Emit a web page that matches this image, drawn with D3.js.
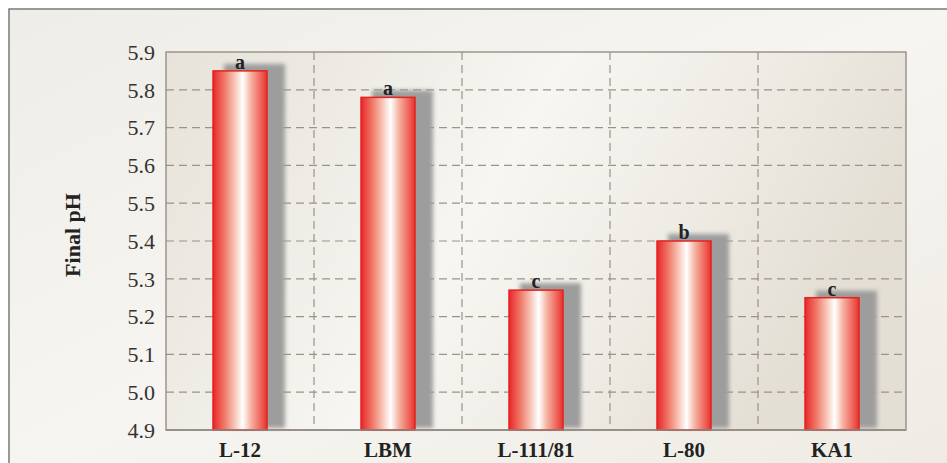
<!DOCTYPE html>
<html lang="en">
<head>
  <meta charset="UTF-8">
  <title>Final pH</title>
  <script src="https://d3js.org/d3.v7.min.js"></script>
  <style>
    body { margin: 0; background: #fff; }
    svg { display: block; }
    svg text { font-family: "Liberation Serif", "Times New Roman", Times, serif; }
  </style>
</head>
<body>
<svg width="947" height="463"></svg>
<script>
  // data
  const strains = ["L-12", "LBM", "L-111/81", "L-80", "KA1"]
  const finalPH = [5.85, 5.78, 5.27, 5.40, 5.25]
  const letters = ["a", "a", "c", "b", "c"]
  const yTicks = [4.9, 5.0, 5.1, 5.2, 5.3, 5.4, 5.5, 5.6, 5.7, 5.8, 5.9]

  const width = 947
  const height = 463
  const margin = { top: 52, right: 41, bottom: 33, left: 166 }

  const svg = d3.select("svg")
  const defs = svg.append("defs")

  // outer panel
  const bgGrad = defs.append("linearGradient").attr("id", "bg")
    .attr("x1", "0").attr("y1", "0").attr("x2", "1").attr("y2", "1")
  bgGrad.append("stop").attr("offset", "0%").attr("stop-color", "#efede7")
  bgGrad.append("stop").attr("offset", "50%").attr("stop-color", "#f6f5f1")
  bgGrad.append("stop").attr("offset", "100%").attr("stop-color", "#efebe4")

  const plotGrad = defs.append("linearGradient").attr("id", "plotbg")
    .attr("x1", "0").attr("y1", "0").attr("x2", "1").attr("y2", "0.3")
  plotGrad.append("stop").attr("offset", "0%").attr("stop-color", "#e7e3da")
  plotGrad.append("stop").attr("offset", "20%").attr("stop-color", "#ece9e2")
  plotGrad.append("stop").attr("offset", "50%").attr("stop-color", "#f7f6f2")
  plotGrad.append("stop").attr("offset", "75%").attr("stop-color", "#efece5")
  plotGrad.append("stop").attr("offset", "100%").attr("stop-color", "#e4dfd5")

  // bar fill: red edges, white highlight near the centre
  const barGrad = defs.append("linearGradient").attr("id", "bar")
    .attr("x1", "0").attr("y1", "0").attr("x2", "1").attr("y2", "0")
  barGrad.append("stop").attr("offset", "0%").attr("stop-color", "#e8262a")
  barGrad.append("stop").attr("offset", "22%").attr("stop-color", "#f07c6a")
  barGrad.append("stop").attr("offset", "45%").attr("stop-color", "#fbd9cf")
  barGrad.append("stop").attr("offset", "55%").attr("stop-color", "#ffffff")
  barGrad.append("stop").attr("offset", "70%").attr("stop-color", "#f6b3a2")
  barGrad.append("stop").attr("offset", "100%").attr("stop-color", "#e9332e")

  defs.append("filter").attr("id", "blur")
    .attr("x", "-50%").attr("y", "-50%").attr("width", "200%").attr("height", "200%")
    .append("feGaussianBlur").attr("stdDeviation", 2)

  svg.append("rect")
    .attr("x", 9).attr("y", 9)
    .attr("width", width - 9 + 2).attr("height", height)
    .attr("fill", "url(#bg)")
    .attr("stroke", "#7a7a7a").attr("stroke-width", 1.5)

  const x = d3.scaleBand()
    .domain(strains)
    .range([margin.left, width - margin.right])
    .paddingInner(0)
    .paddingOuter(0)

  const y = d3.scaleLinear()
    .domain([4.9, 5.9])
    .range([height - margin.bottom, margin.top])

  const plotW = width - margin.right - margin.left
  const plotH = height - margin.bottom - margin.top

  svg.append("rect")
    .attr("x", margin.left).attr("y", margin.top)
    .attr("width", plotW).attr("height", plotH)
    .attr("fill", "url(#plotbg)")

  // dashed grid
  svg.append("g")
    .selectAll("line")
    .data(yTicks.slice(1, -1))
    .join("line")
    .attr("x1", margin.left).attr("x2", width - margin.right)
    .attr("y1", d => y(d)).attr("y2", d => y(d))
    .attr("stroke", "#9b928a").attr("stroke-width", 1.2)
    .attr("stroke-dasharray", "8,5")

  svg.append("g")
    .selectAll("line")
    .data(strains.slice(1))
    .join("line")
    .attr("x1", d => x(d)).attr("x2", d => x(d))
    .attr("y1", margin.top).attr("y2", height - margin.bottom)
    .attr("stroke", "#9b928a").attr("stroke-width", 1.2)
    .attr("stroke-dasharray", "8,5")

  // plot frame
  svg.append("rect")
    .attr("x", margin.left).attr("y", margin.top)
    .attr("width", plotW).attr("height", plotH)
    .attr("fill", "none")
    .attr("stroke", "#8f877f").attr("stroke-width", 1.3)

  const barW = 54
  const bars = svg.append("g")
    .selectAll("g")
    .data(strains)
    .join("g")

  // soft shadows behind the bars
  bars.append("rect")
    .attr("x", d => x(d) + x.bandwidth() / 2 - barW / 2 + 11)
    .attr("y", (d, i) => y(finalPH[i]) - 7)
    .attr("width", barW + 7)
    .attr("height", (d, i) => y(4.9) - y(finalPH[i]) + 5)
    .attr("fill", "#9d9d9d")
    .attr("filter", "url(#blur)")

  bars.append("rect")
    .attr("x", d => x(d) + x.bandwidth() / 2 - barW / 2)
    .attr("y", (d, i) => y(finalPH[i]))
    .attr("width", barW)
    .attr("height", (d, i) => y(4.9) - y(finalPH[i]))
    .attr("fill", "url(#bar)")
    .attr("stroke", "#e3231f").attr("stroke-width", 1.5)

  bars.append("text")
    .attr("x", d => x(d) + x.bandwidth() / 2)
    .attr("y", (d, i) => y(finalPH[i]) - 2)
    .attr("text-anchor", "middle")
    .attr("font-weight", "bold")
    .attr("font-size", 20).attr("fill", "#222")
    .text((d, i) => letters[i])

  // redraw bottom axis line on top of shadows
  svg.append("line")
    .attr("x1", margin.left).attr("x2", width - margin.right)
    .attr("y1", y(4.9)).attr("y2", y(4.9))
    .attr("stroke", "#8f877f").attr("stroke-width", 1.3)

  // y tick labels
  svg.append("g")
    .selectAll("text")
    .data(yTicks)
    .join("text")
    .attr("x", margin.left - 11)
    .attr("y", d => y(d))
    .attr("dy", "0.35em")
    .attr("text-anchor", "end")
    .attr("font-size", 22).attr("fill", "#333")
    .text(d => d.toFixed(1))

  // x tick labels
  svg.append("g")
    .selectAll("text")
    .data(strains)
    .join("text")
    .attr("x", d => x(d) + x.bandwidth() / 2)
    .attr("y", height - 6)
    .attr("text-anchor", "middle")
    .attr("font-weight", "bold")
    .attr("font-size", 21).attr("fill", "#222")
    .text(d => d)

  svg.append("text")
    .attr("transform", "translate(80,235) rotate(-90)")
    .attr("text-anchor", "middle")
    .attr("font-weight", "bold")
    .attr("font-size", 22).attr("fill", "#222")
    .text("Final pH")
</script>
</body>
</html>
